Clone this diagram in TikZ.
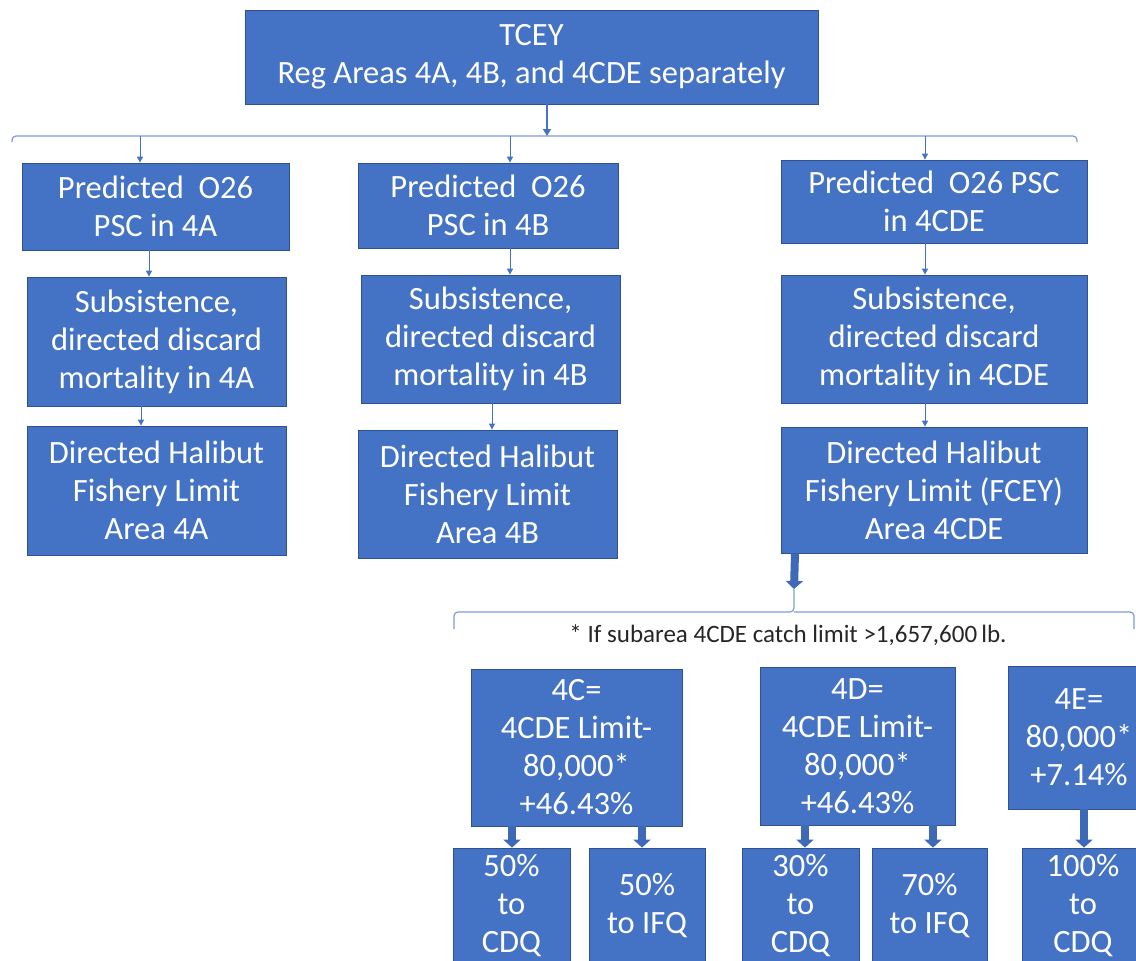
\documentclass[tikz,border=0pt]{standalone}
\usepackage{fontspec}
\setmainfont{Carlito}
\usetikzlibrary{arrows.meta}
\definecolor{boxblue}{HTML}{4472C4}
\definecolor{boxedge}{HTML}{2F528F}
\definecolor{arrblue}{HTML}{4472C4}
\definecolor{brkblue}{HTML}{7F9BD3}
\definecolor{thickblue}{HTML}{3E68B8}
\tikzset{
  box/.style={draw=boxedge, fill=boxblue, text=white, line width=0.8pt, align=center,
    inner sep=0pt, font=\fontsize{32.5}{38}\selectfont},
  arr/.style={draw=arrblue, line width=1pt, -{Triangle[length=6pt,width=6pt]}},
  toparr/.style={draw=arrblue, line width=1.6pt, -{Triangle[length=7pt,width=8pt]}},
  thickarr/.style={draw=thickblue, line width=8pt, -{Triangle[length=8pt,width=17pt]}},
  brk/.style={draw=brkblue, line width=1.2pt, rounded corners=4pt},
  note/.style={text=black!85, font=\fontsize{25}{29}\selectfont, inner sep=0pt}
}
\begin{document}
\begin{tikzpicture}[x=1pt,y=-1pt]
\useasboundingbox (0,0) rectangle (1136,961);
\clip (0,0) rectangle (1136,961);
\fill[white] (0,0) rectangle (1136,961);

% top box
\node[box, minimum width=573pt, minimum height=94pt] (top) at (531.5,57) {TCEY\\Reg Areas 4A, 4B, and 4CDE separately};

% column 4A
\node[box, minimum width=267pt, minimum height=87pt] (p4a) at (155.5,206.5) {Predicted\ \ O26\\PSC in 4A};
\node[box, minimum width=259pt, minimum height=129pt] (s4a) at (156.5,341.5) {Subsistence,\\directed discard\\mortality in 4A};
\node[box, minimum width=259pt, minimum height=129pt] (d4a) at (156.5,490.5) {Directed Halibut\\Fishery Limit\\Area 4A};

% column 4B
\node[box, minimum width=260pt, minimum height=85pt] (p4b) at (488,205.5) {Predicted\ \ O26\\PSC in 4B};
\node[box, minimum width=259pt, minimum height=128pt] (s4b) at (490.5,339) {Subsistence,\\directed discard\\mortality in 4B};
\node[box, minimum width=259pt, minimum height=128pt] (d4b) at (487.5,494) {Directed Halibut\\Fishery Limit\\Area 4B};

% column 4CDE
\node[box, minimum width=306pt, minimum height=83pt] (p4c) at (934,201.5) {Predicted\ \ O26 PSC\\in 4CDE};
\node[box, minimum width=306pt, minimum height=128pt] (s4c) at (934,339) {Subsistence,\\directed discard\\mortality in 4CDE};
\node[box, minimum width=306pt, minimum height=126pt] (d4c) at (934,490) {Directed Halibut\\Fishery Limit (FCEY)\\Area 4CDE};

% sub-areas
\node[box, minimum width=211pt, minimum height=157pt] (c4) at (576.5,747.5) {4C=\\4CDE Limit-\\80,000*\\+46.43\%};
\node[box, minimum width=195pt, minimum height=158pt] (d4) at (857.5,746) {4D=\\4CDE Limit-\\80,000*\\+46.43\%};
\node[box, minimum width=142pt, minimum height=143pt] (e4) at (1079,737.5) {4E=\\80,000*\\+7.14\%};

\node[box, minimum width=117pt, minimum height=116pt] (cdq1) at (511.5,906) {50\%\\to\\CDQ};
\node[box, minimum width=116pt, minimum height=116pt] (ifq1) at (647,906) {50\%\\to IFQ};
\node[box, minimum width=117pt, minimum height=116pt] (cdq2) at (800.5,906) {30\%\\to\\CDQ};
\node[box, minimum width=115pt, minimum height=116pt] (ifq2) at (929.5,906) {70\%\\to IFQ};
\node[box, minimum width=122pt, minimum height=116pt] (cdq3) at (1083,906) {100\%\\to\\CDQ};

% footnote
\node[note] (fn) at (788,635) {* If subarea 4CDE catch limit >1,657,600\,lb.};

% bracket 1
\coordinate (b1l) at (12,142);
\coordinate (b1r) at (1077,142);
\coordinate (b1c) at (547,136);
\draw[brk] (b1l) -- (12,136) -- (1077,136) -- (b1r);
\draw[toparr] (top.south -| b1c) -- (b1c);
\coordinate (b1a) at (140,136);
\coordinate (b1b) at (510,136);
\coordinate (b1e) at (925,136);
\draw[arr] (b1a) -- (p4a.north -| b1a);
\draw[arr] (b1b) -- (p4b.north -| b1b);
\draw[arr] (b1e) -- (p4c.north -| b1e);

% column arrows
\coordinate (xa1) at (149,0);
\coordinate (xa2) at (141,0);
\draw[arr] (p4a.south -| xa1) -- (s4a.north -| xa1);
\draw[arr] (s4a.south -| xa2) -- (d4a.north -| xa2);
\coordinate (xb1) at (510,0);
\coordinate (xb2) at (492,0);
\draw[arr] (p4b.south -| xb1) -- (s4b.north -| xb1);
\draw[arr] (s4b.south -| xb2) -- (d4b.north -| xb2);
\coordinate (xc) at (925,0);
\draw[arr] (p4c.south -| xc) -- (s4c.north -| xc);
\draw[arr] (s4c.south -| xc) -- (d4c.north -| xc);

% bracket 2
\coordinate (b2c) at (794,589);
\coordinate (b2l) at (454,629);
\coordinate (b2r) at (1134,629);
\draw[brk] (b2l) -- (454,612) -- (794,612) -- (b2c);
\draw[brk] (794,612) -- (1134,612) -- (b2r);
\draw[thickarr] (d4c.south -| 795,0) -- (b2c);

% thick arrows to shares
\coordinate (x1) at (512,0);
\coordinate (x2) at (642,0);
\coordinate (x3) at (805,0);
\coordinate (x4) at (933,0);
\coordinate (x5) at (1084,0);
\draw[thickarr] (c4.south -| x1) -- (cdq1.north -| x1);
\draw[thickarr] (c4.south -| x2) -- (ifq1.north -| x2);
\draw[thickarr] (d4.south -| x3) -- (cdq2.north -| x3);
\draw[thickarr] (d4.south -| x4) -- (ifq2.north -| x4);
\draw[thickarr] (e4.south -| x5) -- (cdq3.north -| x5);
\end{tikzpicture}
\end{document}
